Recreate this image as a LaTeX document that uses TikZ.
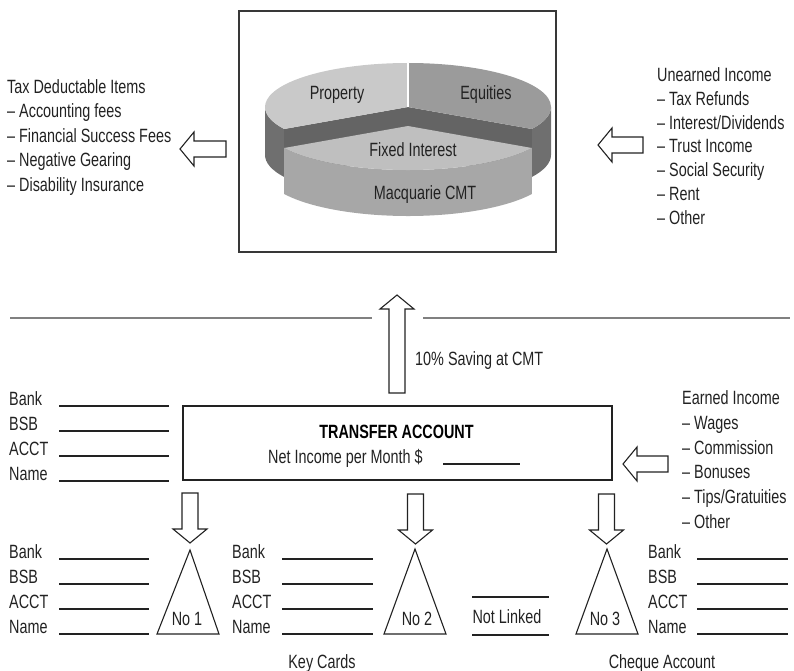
\documentclass[tikz,border=0pt]{standalone}
\usepackage{fontspec}
\setmainfont{Liberation Sans}[FakeStretch=0.75]
\usetikzlibrary{calc}
\definecolor{inkgray}{HTML}{222222}
\definecolor{rulegray}{HTML}{808080}
\definecolor{proptop}{HTML}{C9C9C9}
\definecolor{equitop}{HTML}{9B9B9B}
\definecolor{rimdark}{HTML}{6F6F6F}
\definecolor{fixedtop}{HTML}{BFBFBF}
\definecolor{fixedside}{HTML}{A7A7A7}

\begin{document}
\begin{tikzpicture}[x=1pt, y=-1pt,
    txt/.style={anchor=base west, inner sep=0pt, text=inkgray, font=\fontsize{19.2}{22}\selectfont},
    mid/.style={txt, anchor=base},
    formline/.style={draw=inkgray, line width=1.1pt},
    hollow/.style={draw=inkgray, fill=white, line width=1.1pt, line join=miter},
    blockarrow/.pic={\draw[hollow] (-8,0) -- (8,0) -- (8,#1-14) -- (17,#1-14) -- (0,#1) -- (-17,#1-14) -- (-8,#1-14) -- cycle;},
]
\useasboundingbox (0,0) rectangle (794,671);

% pie chart frame
\node[draw=inkgray!90, line width=1.5pt, minimum width=317pt, minimum height=241pt, inner sep=0pt] (cmtbox) at (397.5,131.5) {};
\coordinate (pc) at (408,107);
\coordinate (fc) at (408,126);

% back slices: sides and cut faces
\fill[rimdark] (pc) ++(150:143 and 44) arc[start angle=150, end angle=180, x radius=143, y radius=44] -- ++(0,48) arc[start angle=180, end angle=150, x radius=143, y radius=44] -- cycle;
\fill[rimdark] (pc) ++(0:143 and 44) arc[start angle=0, end angle=30, x radius=143, y radius=44] -- ++(0,48) arc[start angle=30, end angle=0, x radius=143, y radius=44] -- cycle;
\fill[rimdark!90!black] (pc) -- ++(150:143 and 44) -- ++(0,48) -- ++(330:143 and 44) -- cycle;
\fill[rimdark!90!black] (pc) -- ++(30:143 and 44) -- ++(0,48) -- ++(210:143 and 44) -- cycle;
\fill[proptop] (pc) -- ++(150:143 and 44) arc[start angle=150, end angle=270, x radius=143, y radius=44] -- cycle;
\fill[equitop] (pc) -- ++(270:143 and 44) arc[start angle=270, end angle=390, x radius=143, y radius=44] -- cycle;
\draw[white, line width=1.5pt] (pc) -- ++(270:143 and 44);

% front slice, pulled out
\fill[fixedside] (fc) ++(30:143 and 44) arc[start angle=30, end angle=150, x radius=143, y radius=44] -- ++(0,46) arc[start angle=150, end angle=30, x radius=143, y radius=44] -- cycle;
\fill[fixedtop] (fc) -- ++(30:143 and 44) arc[start angle=30, end angle=150, x radius=143, y radius=44] -- cycle;

\node[mid] (property) at (337,100) {Property};
\node[mid] (equities) at (486,100) {Equities};
\node[mid] (fixed) at (413,157) {Fixed Interest};
\node[mid] (macq) at (425,199) {Macquarie CMT};

% side lists
\foreach \t [count=\i] in {Tax Deductable Items, – Accounting fees, – Financial Success Fees, – Negative Gearing, – Disability Insurance}
  \node[txt] (tax\i) at (7,{93.3+24.5*(\i-1)}) {\t};
\foreach \t [count=\i] in {Unearned Income, – Tax Refunds, – Interest/Dividends, – Trust Income, – Social Security, – Rent, – Other}
  \node[txt] (unearned\i) at (657,{81.5+23.8*(\i-1)}) {\t};
\foreach \t [count=\i] in {Earned Income, – Wages, – Commission, – Bonuses, – Tips/Gratuities, – Other}
  \node[txt] (earned\i) at (682,{404.5+24.8*(\i-1)}) {\t};

\pic[rotate=-90] (taxarrow) at (226,149) {blockarrow=46};
\pic[rotate=-90] (unearnedarrow) at (643,145) {blockarrow=45};
\pic[rotate=-90] (earnedarrow) at (668,464) {blockarrow=45};

% divider rules
\draw[rulegray, line width=1.8pt] (10,318) -- (372,318);
\draw[rulegray, line width=1.8pt] (423,318) -- (790,318);

% transfer account
\node[draw=inkgray, line width=2.5pt, minimum width=429pt, minimum height=74pt, inner sep=0pt] (transfer) at (397.5,443) {};
\node[mid, text=black, font=\fontsize{19.2}{22}\selectfont\bfseries] (transfertitle) at (396.5,438) {TRANSFER ACCOUNT};
\node[txt] (netincome) at (268,463) {Net Income per Month \$};
\draw[formline] (443,464) -- (520,464);

\pic[rotate=180] (savearrow) at (397,393) {blockarrow=98};
\node[txt] (saving) at (415,365) {10\% Saving at CMT};

% account forms
\foreach \gx/\lx/\lr/\by/\g in {9/59/169/405/top, 9/59/149/558/one, 232/282/373/558/two, 648/697/788/558/three}
  \foreach \t [count=\i] in {Bank, BSB, ACCT, Name} {
    \node[txt] (\g\i) at (\gx,{\by+25*(\i-1)}) {\t};
    \draw[formline] (\lx,{\by+1+25*(\i-1)}) -- (\lr,{\by+1+25*(\i-1)});
  }

% cards
\pic (down1) at (190,493) {blockarrow=50};
\pic (down2) at (415.5,494) {blockarrow=50};
\pic (down3) at (606.5,494) {blockarrow=50};
\draw[hollow] (190,550) -- (219,634) -- (157,634) -- cycle;
\draw[hollow] (415,549) -- (446,634) -- (384,634) -- cycle;
\draw[hollow] (607,549) -- (638,634) -- (576,634) -- cycle;
\node[mid] (no1) at (187,625) {No 1};
\node[mid] (no2) at (417,625) {No 2};
\node[mid] (no3) at (605,625) {No 3};

\draw[formline] (472,597) -- (549,597);
\draw[formline] (472,635) -- (549,635);
\node[mid] (notlinked) at (507,623) {Not Linked};

\node[mid] (keycards) at (322,668) {Key Cards};
\node[mid] (cheque) at (662,668) {Cheque Account};
\end{tikzpicture}
\end{document}
